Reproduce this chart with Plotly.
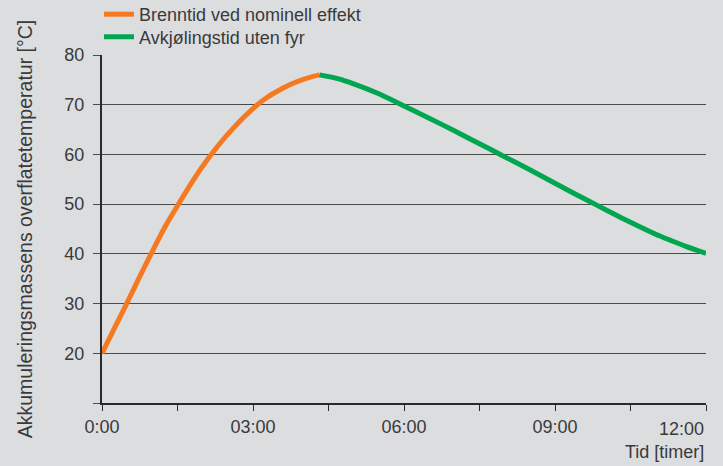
import plotly.graph_objects as go

# Data (hours, °C)
burn_t = [0, 0.25, 0.49, 0.73, 0.975, 1.24, 1.52, 1.83, 2.17, 2.6, 3.09, 3.3, 3.5, 3.75, 4.0, 4.2, 4.32]
burn_v = [20, 25.1, 30, 35, 40, 45.2, 50, 55.1, 60, 65.2, 70, 71.6, 72.8, 74.1, 75.1, 75.7, 76]
cool_t = [4.32, 4.7, 5.0, 5.5, 5.95, 6.5, 7.0, 7.5, 7.94, 8.5, 9.0, 9.4, 9.83, 10.2, 10.5, 10.8, 11.0, 11.3, 11.6, 12.0]
cool_v = [76, 75.2, 74.2, 72.2, 70.0, 67.3, 64.75, 62.15, 59.85, 56.9, 54.2, 52.05, 49.8, 47.85, 46.35, 44.9, 43.95, 42.7, 41.5, 40.1]

x_tickvals = [0, 1.5, 3, 4.5, 6, 7.5, 9, 10.5, 12]
x_ticktext = ["0:00", "", "03:00", "", "06:00", "", "09:00", "", ""]
x_last_label = "12:00"
y_tickvals = [10, 20, 30, 40, 50, 60, 70, 80]
y_ticktext = ["", "20", "30", "40", "50", "60", "70", "80"]

BG = "#dcdddf"
TXT = "#3a3a3a"
FONT = "Liberation Sans"
FS = 18

fig = go.Figure()
fig.add_trace(go.Scatter(x=burn_t, y=burn_v, mode="lines", name="Brenntid ved nominell effekt",
                         line=dict(color="#f47920", width=5, shape="spline", smoothing=0.8),
                         cliponaxis=False, legend="legend"))
fig.add_trace(go.Scatter(x=cool_t, y=cool_v, mode="lines", name="Avkjølingstid uten fyr",
                         line=dict(color="#00a650", width=5, shape="spline", smoothing=0.8),
                         cliponaxis=False, legend="legend2"))

leg_common = dict(xref="paper", yref="paper", xanchor="left", yanchor="top",
                  bgcolor="rgba(0,0,0,0)", font=dict(size=FS, color=TXT), itemwidth=30)

fig.update_layout(
    width=723, height=466,
    paper_bgcolor=BG, plot_bgcolor=BG,
    margin=dict(l=102, r=17, t=55, b=63, autoexpand=False),
    font=dict(family=FONT, size=FS, color=TXT),
    showlegend=True,
    legend=dict(x=-0.005, y=1.1696, **leg_common),
    legend2=dict(x=-0.005, y=1.105, **leg_common),
    xaxis=dict(range=[0, 12], tickvals=x_tickvals, ticktext=x_ticktext,
               showgrid=False, zeroline=False, showline=True, linecolor="#2a2a2a", linewidth=2,
               ticks="outside", ticklen=6, tickwidth=1, tickcolor="#2a2a2a",
               tickfont=dict(size=FS, color=TXT)),
    yaxis=dict(range=[10, 80], tickvals=y_tickvals, ticktext=y_ticktext,
               showgrid=True, gridcolor="#4a4a4a", gridwidth=1, zeroline=False,
               showline=True, linecolor="#2a2a2a", linewidth=2,
               ticks="outside", ticklen=7, tickwidth=1, tickcolor="#4a4a4a",
               ticklabelstandoff=5,
               tickfont=dict(size=FS, color=TXT),
               title=dict(text="Akkumuleringsmassens overflatetemperatur [°C]",
                          font=dict(size=19.5, color=TXT), standoff=27)),
)
fig.add_annotation(text=x_last_label, x=12, y=10, xref="x", yref="y",
                   xanchor="right", yanchor="middle", yshift=-26, showarrow=False,
                   font=dict(size=FS, color=TXT))
fig.add_annotation(text="Tid [timer]", x=1, y=0, xref="paper", yref="paper",
                   xanchor="right", yanchor="middle", yshift=-49, showarrow=False,
                   font=dict(size=FS, color=TXT))
fig.write_html("out.html",
               config={"displayModeBar": False},
               post_script="document.body.style.margin='0';document.body.style.padding='0';"
                           "document.body.style.background='#dcdddf';")
